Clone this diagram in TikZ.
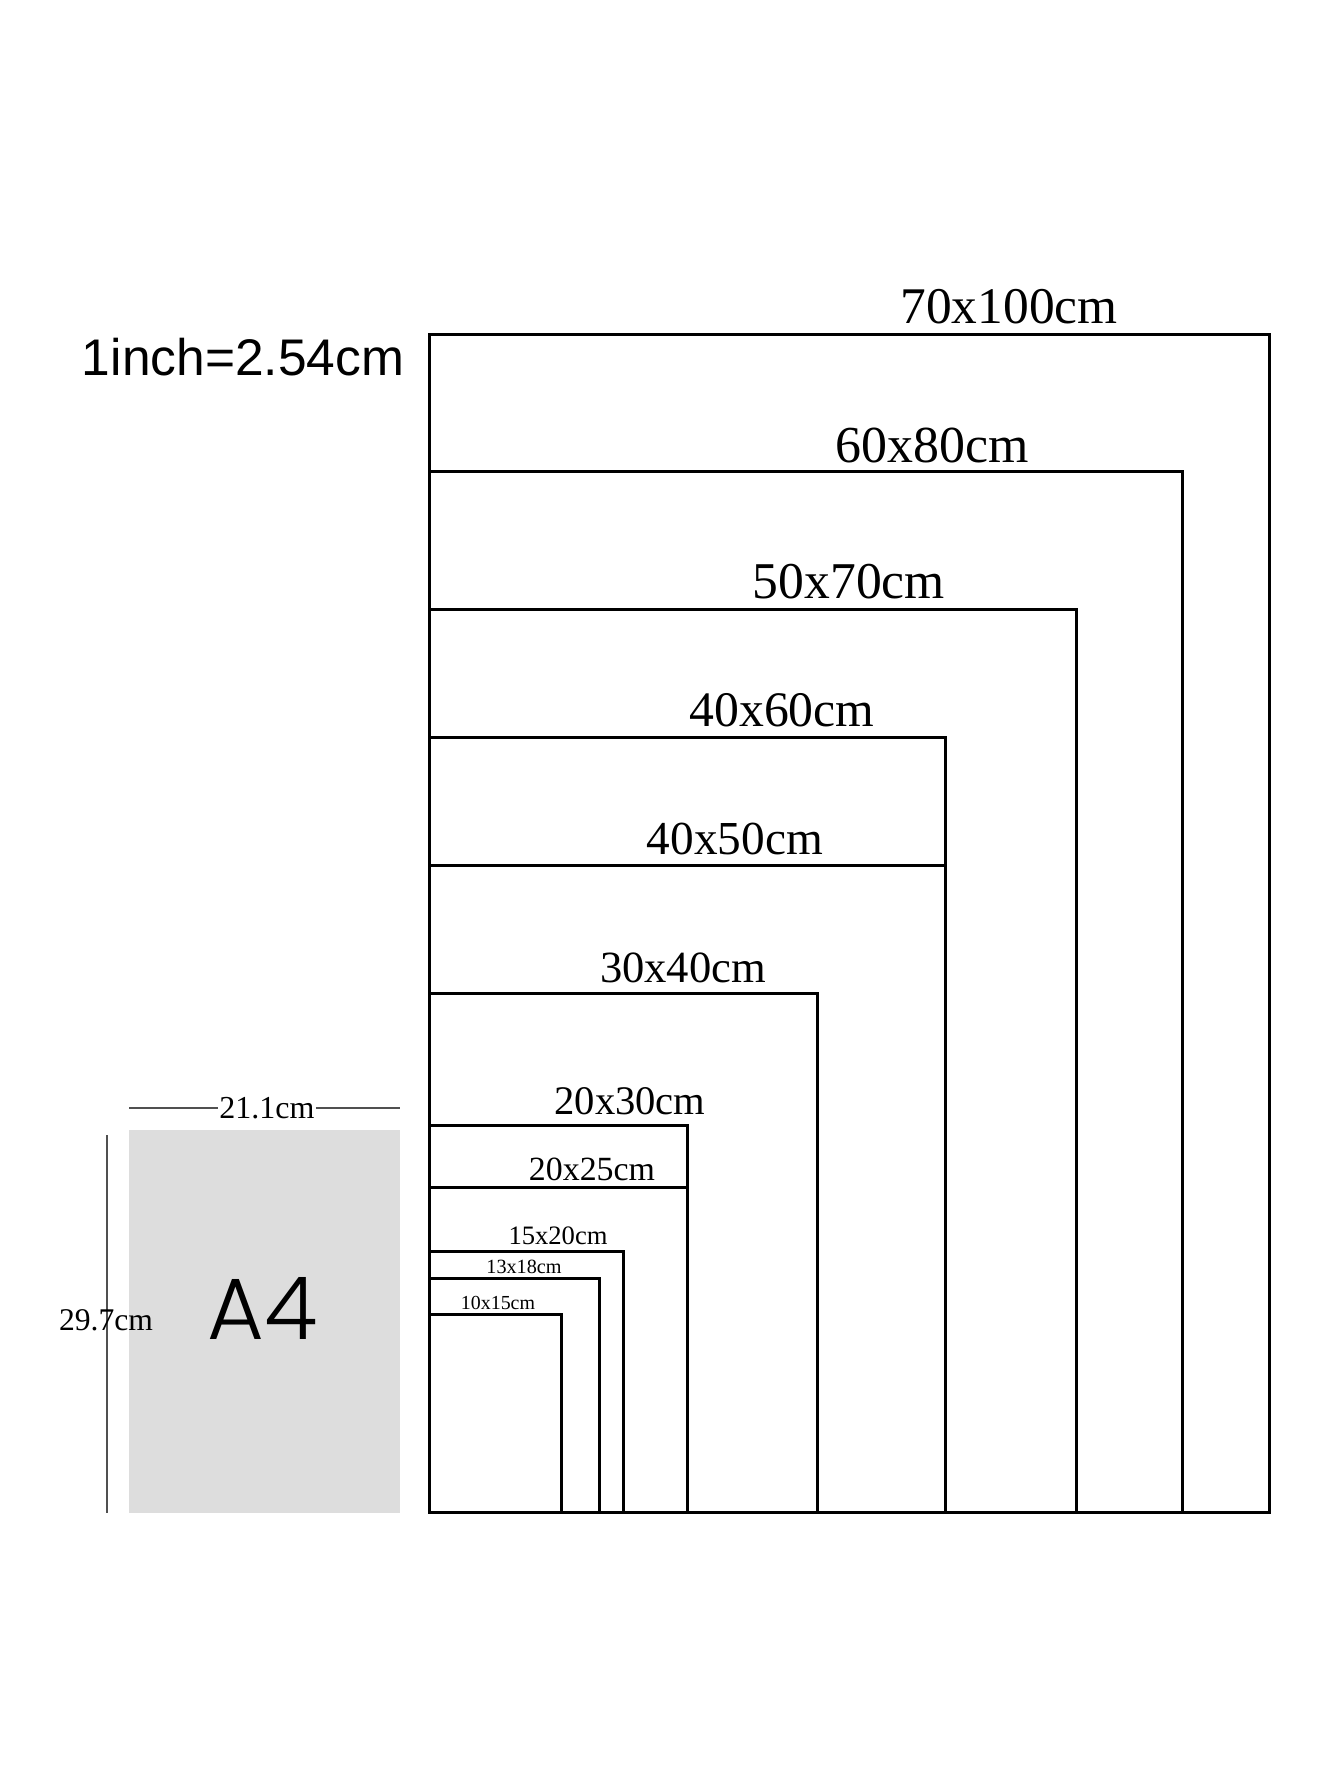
\documentclass[tikz,border=0pt]{standalone}
\usepackage{fontspec}
\setmainfont{Liberation Serif}
\newfontfamily\arialf{Liberation Sans}
\newfontfamily\popf{Poppins}[UprightFont=* Light]
\definecolor{a4gray}{RGB}{221,221,221}
\definecolor{dimgray}{RGB}{80,80,80}
\tikzset{
  frame/.style={draw=black, line width=3pt, line join=miter},
  lab/.style={inner sep=0pt, anchor=base},
  dimline/.style={draw=dimgray, line width=2.5pt}
}
\newcommand{\lbl}[2]{{\fontsize{#1}{#1}\selectfont #2}}
\begin{document}
\begin{tikzpicture}[x=1pt,y=1pt]
\fill[white] (0,0) rectangle (1340,-1785);
\useasboundingbox (0,0) rectangle (1340,-1785);
% frames (left 429, bottom 1512)
\draw[frame] (429,-1512) rectangle (1269,-334);
\draw[frame] (429,-1512) rectangle (1182,-471);
\draw[frame] (429,-1512) rectangle (1076,-609);
\draw[frame] (429,-1512) rectangle (945.5,-737);
\draw[frame] (429,-1512) rectangle (945.5,-865);
\draw[frame] (429,-1512) rectangle (817,-993);
\draw[frame] (429,-1512) rectangle (687.5,-1125);
\draw[frame] (429,-1512) rectangle (687.5,-1187);
\draw[frame] (429,-1512) rectangle (623,-1251);
\draw[frame] (429,-1512) rectangle (599.5,-1278);
\draw[frame] (429,-1512) rectangle (561,-1314);
% frame labels
\node[lab] (l70100) at (1009,-323) {\lbl{51.4}{70x100cm}};
\node[lab] (l6080) at (932,-462) {\lbl{51.9}{60x80cm}};
\node[lab] (l5070) at (849,-598) {\lbl{51.6}{50x70cm}};
\node[lab] (l4060) at (782,-726) {\lbl{49.7}{40x60cm}};
\node[lab] (l4050) at (735,-854) {\lbl{47.3}{40x50cm}};
\node[lab] (l3040) at (683,-982) {\lbl{44.6}{30x40cm}};
\node[lab] (l2030) at (630,-1114) {\lbl{40.6}{20x30cm}};
\node[lab] (l2025) at (592,-1180) {\lbl{33.9}{20x25cm}};
\node[lab] (l1520) at (558,-1244) {\lbl{26.6}{15x20cm}};
\node[lab] (l1318) at (524,-1273) {\lbl{20.2}{13x18cm}};
\node[lab] (l1015) at (498,-1309) {\lbl{19.9}{10x15cm}};
% inch note
\node[lab] (inch) at (243,-375) {\arialf\lbl{51.5}{1inch=2.54cm}};
% A4 sheet
\fill[a4gray] (129,-1130) rectangle (400,-1513);
\node[lab] (a4) at (263,-1339) {\popf\fontsize{87}{87}\selectfont A4};
% width dimension
\coordinate (h1) at (129,-1108);
\coordinate (h2) at (400,-1108);
\node[lab, inner xsep=1pt] (w211) at (267,-1118) {\lbl{32}{21.1cm}};
\draw[dimline] (h1) -- (h1 -| w211.west);
\draw[dimline] (w211.east |- h2) -- (h2);
% height dimension
\coordinate (v1) at (107,-1135);
\coordinate (v2) at (107,-1513);
\draw[dimline] (v1) -- (v2);
\node[lab] (h297) at (106,-1330) {\lbl{31.6}{29.7cm}};
\end{tikzpicture}
\end{document}
